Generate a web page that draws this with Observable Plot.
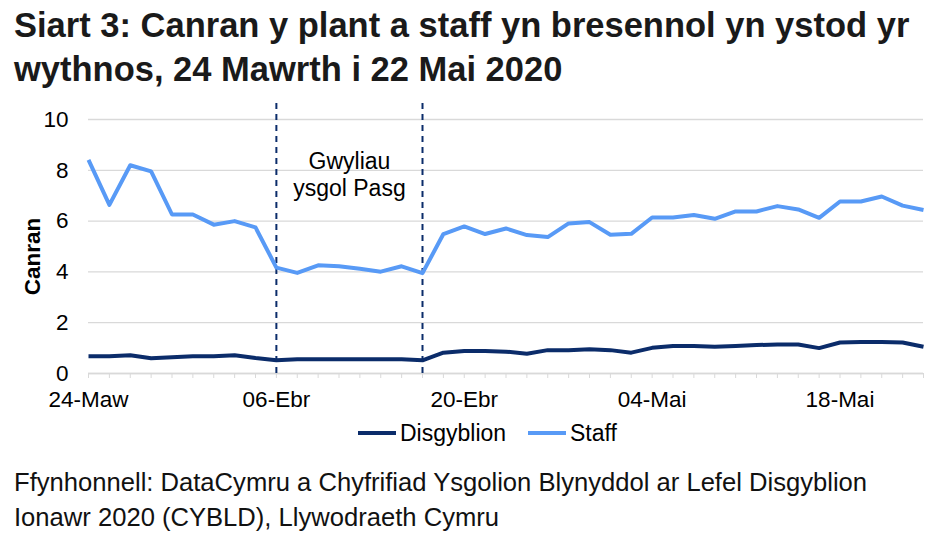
<!DOCTYPE html>
<html>
<head>
<meta charset="utf-8">
<script src="https://cdn.jsdelivr.net/npm/d3@7"></script>
<script src="https://cdn.jsdelivr.net/npm/@observablehq/plot@0.6"></script>
<style>
  html, body { margin: 0; padding: 0; background: #fff; }
  body { width: 940px; height: 542px; position: relative; overflow: hidden;
         font-family: "Liberation Sans", Arial, sans-serif; color: #000; }
  #title { position: absolute; left: 14px; top: 3px; width: 926px;
           font-size: 34.5px; font-weight: bold; line-height: 44.4px; color: #1a1a1a; white-space: nowrap; }
  #chart { position: absolute; left: 0; top: 95px; }
  #legend { position: absolute; left: 0; top: 418px; width: 940px; height: 30px; font-size: 23px; }
  #legend .item { position: absolute; top: 0; display: flex; align-items: center; height: 30px; }
  #caption { position: absolute; left: 14px; top: 465px; font-size: 25.6px; line-height: 35px; color: #111; white-space: nowrap; }
</style>
</head>
<body>
<div id="title">Siart 3: Canran y plant a staff yn bresennol yn ystod yr<br>wythnos, 24 Mawrth i 22 Mai 2020</div>
<div id="chart"></div>
<div id="legend"></div>
<div id="caption">Ffynhonnell: DataCymru a Chyfrifiad Ysgolion Blynyddol ar Lefel Disgyblion<br>Ionawr 2020 (CYBLD), Llywodraeth Cymru</div>
<script>
// Weekday index (0..40) from 24 Mar to 22 May 2020
const dayIndex = d3.range(41);
const tickLabels = ["24-Maw", "06-Ebr", "20-Ebr", "04-Mai", "18-Mai"];
const tickPositions = [0, 9, 18, 27, 36];
const seriesNames = ["Disgyblion", "Staff"];
const seriesColors = ["#0b2c6a", "#589af6"];

const disgyblion = [0.68, 0.68, 0.72, 0.60, 0.64, 0.68, 0.68, 0.72, 0.61, 0.52,
  0.56, 0.56, 0.56, 0.56, 0.56, 0.56, 0.52, 0.82, 0.89, 0.89,
  0.86, 0.78, 0.92, 0.92, 0.95, 0.92, 0.82, 1.01, 1.08, 1.08,
  1.05, 1.08, 1.12, 1.14, 1.14, 1.00, 1.22, 1.24, 1.24, 1.22, 1.05];
const staff = [8.41, 6.64, 8.20, 7.96, 6.26, 6.26, 5.86, 6.00, 5.75, 4.17,
  3.96, 4.26, 4.22, 4.12, 4.01, 4.22, 3.95, 5.49, 5.79, 5.49,
  5.71, 5.45, 5.37, 5.91, 5.96, 5.46, 5.50, 6.14, 6.14, 6.24,
  6.09, 6.38, 6.38, 6.59, 6.46, 6.13, 6.77, 6.77, 6.97, 6.61, 6.44];

const holidayBounds = [9, 16];
const holidayLabel = "Gwyliau\nysgol Pasg";
const yTicks = [0, 2, 4, 6, 8, 10];

const rows = [
  ...dayIndex.map(i => ({i, v: disgyblion[i], s: seriesNames[0]})),
  ...dayIndex.map(i => ({i, v: staff[i], s: seriesNames[1]}))
];
const labelMap = new Map(tickPositions.map((p, k) => [p, tickLabels[k]]));

const chart = Plot.plot({
  width: 940,
  height: 328,
  marginLeft: 88,
  marginRight: 17,
  marginTop: 24,
  marginBottom: 50,
  style: {fontFamily: "'Liberation Sans', Arial, sans-serif", fontSize: "22.5px", color: "#000", background: "#fff"},
  x: {domain: [0, 40]},
  y: {domain: [0, 10]},
  color: {domain: seriesNames, range: seriesColors},
  marks: [
    Plot.gridY(yTicks, {stroke: "#d9d9d9", strokeOpacity: 1, strokeWidth: 1.3}),
    Plot.ruleY([0], {stroke: "#d9d9d9", strokeWidth: 1.3}),
    Plot.axisY({ticks: yTicks, tickSize: 0, tickPadding: 20, label: null, fontSize: 22.5}),
    Plot.axisX({ticks: dayIndex, tickSize: 5, tickPadding: 13, stroke: "#d9d9d9", strokeOpacity: 1,
      tickFormat: d => labelMap.get(d) ?? "", label: null, fontSize: 22.5}),
    Plot.ruleX(holidayBounds, {x: d => d, y1: 0, y2: 10.72, stroke: "#0b2c6a", strokeWidth: 2, strokeDasharray: "6,5"}),
    Plot.text([holidayLabel], {x: 12.5, y: 7.85, text: d => d, fontSize: 23, lineHeight: 1.16, fill: "#000"}),
    Plot.line(rows, {x: "i", y: "v", z: "s", stroke: "s", strokeWidth: 4, strokeLinejoin: "round", strokeLinecap: "butt"}),
    Plot.text(["Canran"], {frameAnchor: "left", dx: -56, dy: 10, textAnchor: "middle", text: d => d, rotate: -90, fontSize: 22.5, fontWeight: "bold", fill: "#000"})
  ]
});
document.getElementById("chart").appendChild(chart);

// legend
const legend = document.getElementById("legend");
const legendPos = [{sw: 358, tx: 400}, {sw: 528, tx: 570}];
seriesNames.forEach((name, k) => {
  const sw = document.createElementNS("http://www.w3.org/2000/svg", "svg");
  sw.setAttribute("width", 38); sw.setAttribute("height", 30);
  sw.style.position = "absolute"; sw.style.left = legendPos[k].sw + "px"; sw.style.top = "0px";
  const ln = document.createElementNS("http://www.w3.org/2000/svg", "line");
  ln.setAttribute("x1", 0); ln.setAttribute("x2", 38); ln.setAttribute("y1", 15); ln.setAttribute("y2", 15);
  ln.setAttribute("stroke", seriesColors[k]); ln.setAttribute("stroke-width", 4);
  sw.appendChild(ln);
  legend.appendChild(sw);
  const t = document.createElement("div");
  t.className = "item"; t.style.left = legendPos[k].tx + "px"; t.textContent = name;
  legend.appendChild(t);
});
</script>
</body>
</html>
